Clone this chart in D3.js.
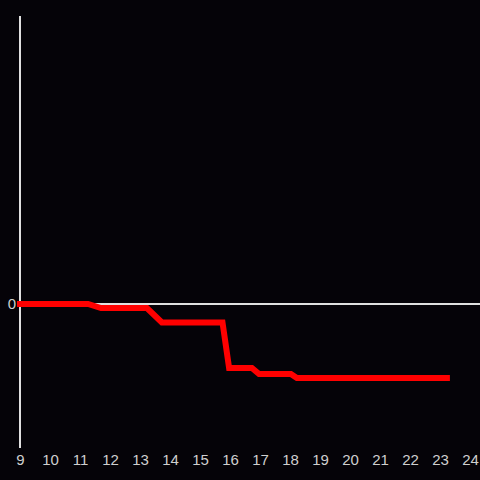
<!DOCTYPE html>
<html>
<head>
<meta charset="utf-8">
<script src="https://cdn.jsdelivr.net/npm/d3@7"></script>
<style>
  html, body { margin: 0; padding: 0; background: #050308; }
  svg { display: block; }
</style>
</head>
<body>
<div id="chart"></div>
<script>
// series
const xValues = [9, 11.27, 11.7, 13.23, 13.73, 15.75, 15.97, 16.73, 16.97, 18.03, 18.23, 23.23];
const yValues = [0, 0, -1.4, -1.4, -6.4, -6.4, -22.2, -22.2, -24.3, -24.3, -25.7, -25.7];
const xTicks = [9, 10, 11, 12, 13, 14, 15, 16, 17, 18, 19, 20, 21, 22, 23, 24];
const yTicks = [0];

const W = 480, H = 480;
const margin = { top: 16, right: 10, bottom: 32, left: 20 };

const svg = d3.select('#chart')
  .append("svg")
    .attr("width", W)
    .attr("height", H);

svg.append("rect")
  .attr("width", W).attr("height", H)
  .attr("fill", "#050308");

const x = d3.scaleLinear()
  .domain([9, 24])
  .range([margin.left, W - margin.right]);

const y = d3.scaleLinear()
  .domain([-50, 100])
  .range([H - margin.bottom, margin.top]);

// x tick labels (no axis line)
const xAxis = d3.axisBottom(x).tickValues(xTicks).tickSize(0).tickPadding(6);
const gx = svg.append("g")
  .attr("transform", "translate(0," + (H - margin.bottom) + ")")
  .call(xAxis);
gx.select(".domain").remove();
gx.selectAll("text")
  .attr("fill", "#cfcfcf")
  .style("font-family", "Liberation Sans, Arial, sans-serif")
  .style("font-size", "15px");

// y axis
const yAxis = d3.axisLeft(y).tickValues(yTicks).tickSize(0).tickPadding(4);
const gy = svg.append("g")
  .attr("transform", "translate(" + margin.left + ",0)")
  .call(yAxis);
gy.select(".domain").remove();
gy.selectAll("text")
  .attr("fill", "#cfcfcf")
  .style("font-family", "Liberation Sans, Arial, sans-serif")
  .style("font-size", "15px");

svg.append("line")
  .attr("x1", margin.left).attr("x2", margin.left)
  .attr("y1", y(100)).attr("y2", y(-50))
  .attr("stroke", "#e0e0e0")
  .attr("stroke-width", 2);

// zero line
svg.append("line")
  .attr("x1", margin.left).attr("x2", W)
  .attr("y1", y(0)).attr("y2", y(0))
  .attr("stroke", "#e0e0e0")
  .attr("stroke-width", 2);

const data = xValues.map((v, i) => ({ x: v, y: yValues[i] }));

svg.append("path")
  .datum(data)
  .attr("fill", "none")
  .attr("stroke", "#ff0000")
  .attr("stroke-width", 6)
  .attr("stroke-linecap", "square")
  .attr("d", d3.line()
    .x(d => x(d.x))
    .y(d => y(d.y))
  );
</script>
</body>
</html>
